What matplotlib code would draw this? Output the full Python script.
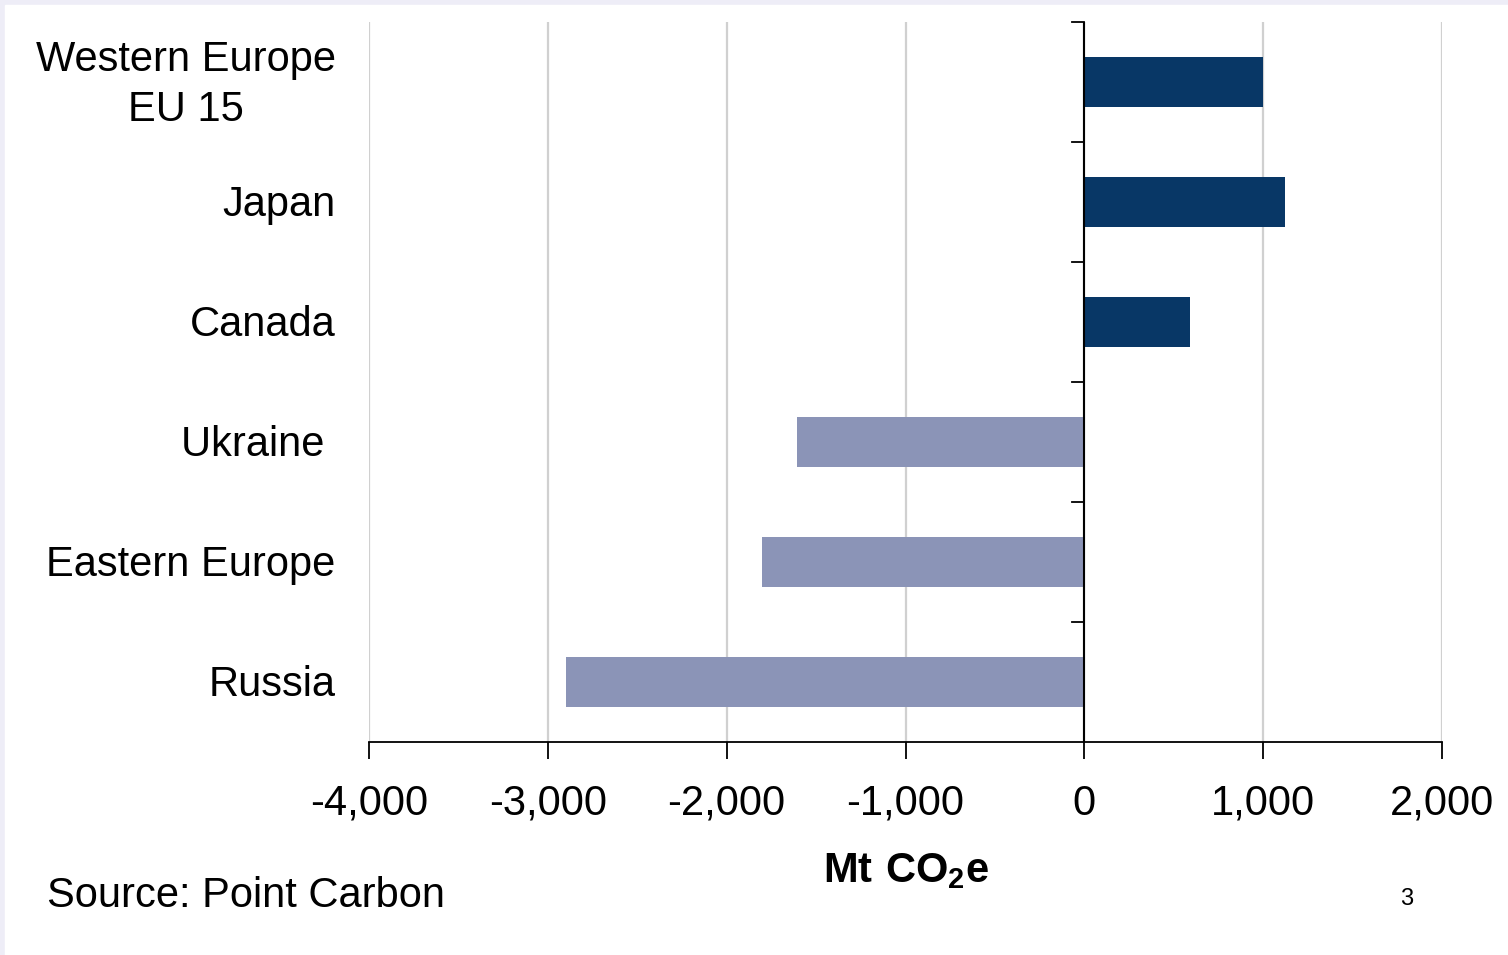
# Бары: баланс квот по странам, Mt CO2e
import numpy as np
import matplotlib.pyplot as plt
from matplotlib.patches import Rectangle

plt.rcParams['font.family'] = ['Liberation Sans', 'DejaVu Sans']
plt.rcParams['mathtext.fontset'] = 'custom'
plt.rcParams['mathtext.rm'] = 'Liberation Sans'
plt.rcParams['mathtext.bf'] = 'Liberation Sans:bold'

# Данные
countries = ['Western Europe\nEU 15', 'Japan', 'Canada', 'Ukraine ', 'Eastern Europe', 'Russia']
values = [1000, 1120, 590, -1605, -1800, -2900]
x_ticks = [-4000, -3000, -2000, -1000, 0, 1000, 2000]
x_labels = ['-4,000', '-3,000', '-2,000', '-1,000', '0', '1,000', '2,000']

navy = '#083766'
light = '#8B94B7'

fig = plt.figure(figsize=(15.08, 9.55), dpi=100)
# фон слайда: лёгкая сиреневая рамка
fig.patches.append(Rectangle((0, 0), 1, 1, transform=fig.transFigure, color='#EEEDF7', zorder=-10))
fig.patches.append(Rectangle((5 / 1508, 0), 1, 1 - 5 / 955, transform=fig.transFigure,
                             color='white', zorder=-9))

ax = fig.add_axes([369 / 1508, 1 - 742 / 955, (1442 - 369) / 1508, (742 - 22) / 955])
ax.set_facecolor('none')

y = np.arange(len(countries))[::-1]
colors = [navy if v > 0 else light for v in values]
ax.barh(y, values, height=0.42, color=colors, edgecolor='none', zorder=3)

ax.set_xlim(-4000, 2000)
ax.set_ylim(-0.5, len(countries) - 0.5)
ax.set_xticks(x_ticks)
ax.set_xticklabels(x_labels, fontsize=30)
ax.tick_params(axis='x', length=12, width=1.3, pad=18, color='black')
ax.grid(axis='x', color='#D0D0D0', linewidth=1.6, zorder=0)

for s in ['top', 'right', 'left']:
    ax.spines[s].set_visible(False)
ax.spines['bottom'].set_linewidth(1.3)

# вертикальная ось по нулю с засечками между категориями
ax.axvline(0, color='black', linewidth=1.5, zorder=4)
ax.set_yticks([])
for b in np.arange(-0.5, len(countries), 1.0)[1:]:
    ax.plot([-70, 0], [b, b], color='black', linewidth=1.3, clip_on=False, zorder=4)

# подписи категорий
for yi, name in zip(y, countries):
    ax.text(-0.031, yi - 0.025, name, transform=ax.get_yaxis_transform(), ha='right', va='center',
            fontsize=30, multialignment='center', linespacing=1.3)

fig.text(906 / 1508, 1 - 871 / 955, r'$\mathbf{Mt\ CO_2e}$', ha='center', va='center', fontsize=30)
fig.text(47 / 1508, 1 - 896 / 955, 'Source: Point Carbon', ha='left', va='center', fontsize=30)
fig.text(1407 / 1508, 1 - 899 / 955, '3', ha='center', va='center', fontsize=17)

fig.savefig('out.png', dpi=100)
